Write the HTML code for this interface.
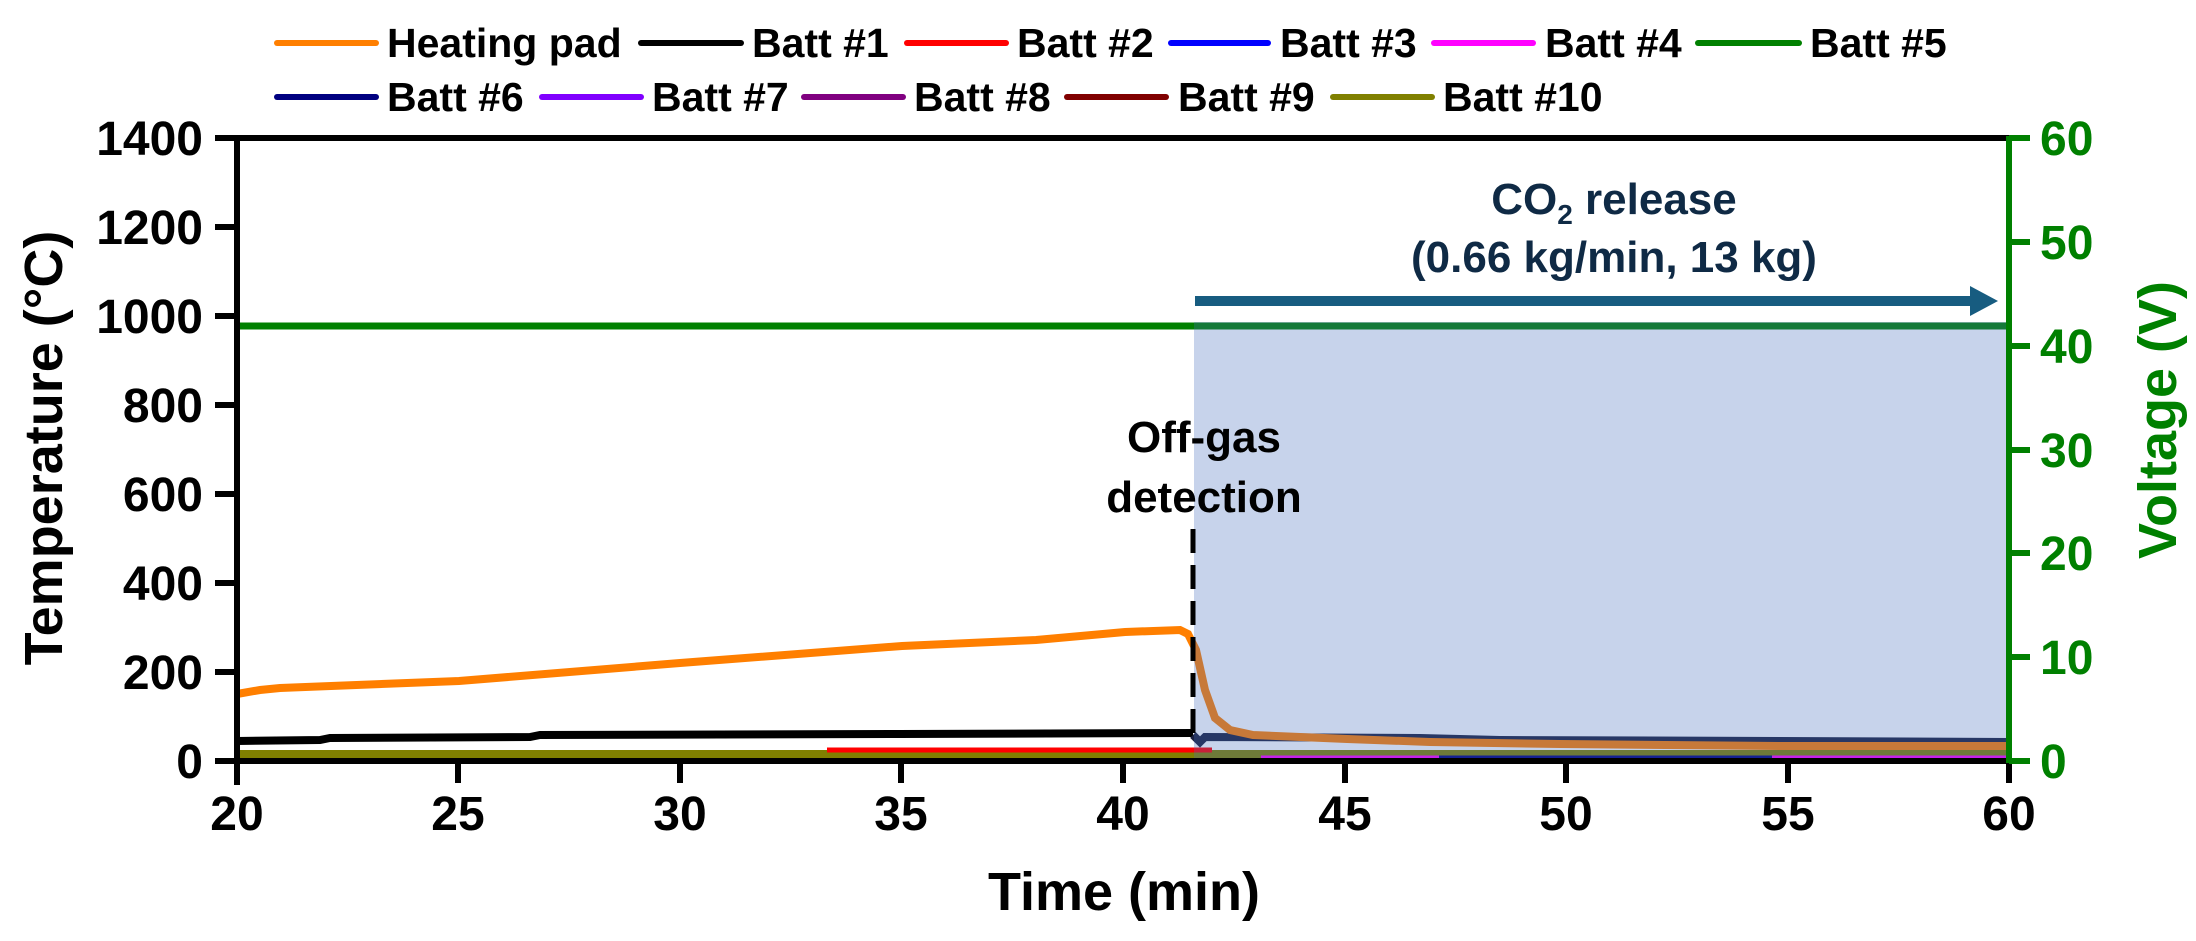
<!DOCTYPE html>
<html><head><meta charset="utf-8"><style>
html,body{margin:0;padding:0;background:#fff;}
svg{display:block;}
text{font-family:"Liberation Sans",Arial,sans-serif;font-weight:bold;}
</style></head><body>
<svg width="2196" height="941" viewBox="0 0 2196 941" xmlns="http://www.w3.org/2000/svg">
<!-- legend -->
<g stroke-width="6" stroke-linecap="round" font-size="41" fill="#000">
<line x1="277" y1="43" x2="376" y2="43" stroke="#ff7f00"/><text x="387" y="57">Heating pad</text>
<line x1="641" y1="43" x2="741" y2="43" stroke="#000"/><text x="752" y="57">Batt #1</text>
<line x1="907" y1="43" x2="1006" y2="43" stroke="#ff0000"/><text x="1017" y="57">Batt #2</text>
<line x1="1171" y1="43" x2="1268" y2="43" stroke="#0000ff"/><text x="1280" y="57">Batt #3</text>
<line x1="1434" y1="43" x2="1533" y2="43" stroke="#ff00ff"/><text x="1545" y="57">Batt #4</text>
<line x1="1698" y1="43" x2="1799" y2="43" stroke="#008000"/><text x="1810" y="57">Batt #5</text>
<line x1="277" y1="97" x2="376" y2="97" stroke="#000080"/><text x="387" y="111">Batt #6</text>
<line x1="542" y1="97" x2="641" y2="97" stroke="#8000ff"/><text x="652" y="111">Batt #7</text>
<line x1="804" y1="97" x2="903" y2="97" stroke="#800080"/><text x="914" y="111">Batt #8</text>
<line x1="1067" y1="97" x2="1166" y2="97" stroke="#800000"/><text x="1178" y="111">Batt #9</text>
<line x1="1333" y1="97" x2="1432" y2="97" stroke="#808000"/><text x="1443" y="111">Batt #10</text>
</g>
<!-- data -->
<g fill="none" stroke-width="8">
<line x1="237" y1="326" x2="2009" y2="326" stroke="#008000" stroke-width="7"/>
<line x1="237" y1="754" x2="2009" y2="754" stroke="#808000" stroke-width="8"/>
<line x1="827" y1="750" x2="1212" y2="750" stroke="#ff0000" stroke-width="5"/>
<line x1="1261" y1="758" x2="1439" y2="758" stroke="#ff00ff" stroke-width="5"/>
<line x1="1439" y1="758" x2="1772" y2="758" stroke="#000080" stroke-width="5"/>
<line x1="1772" y1="758" x2="2009" y2="758" stroke="#ff00ff" stroke-width="5"/>
<polyline stroke="#000" points="237,741 320,740 330,738 530,737 540,735 900,734 1193,733"/>
<polyline stroke="#1a2040" points="1193,735 1200,742 1205,737 1420,738 1500,740 1780,741 2009,742"/>
<polyline stroke="#ff7f00" points="237,694 260,690 280,688 459,681 680,663 902,646 1036,640 1125,632 1180,630 1188,634 1196,650 1205,690 1215,718 1230,730 1253,735 1300,737 1347,739 1430,742 1560,744 1780,746 2009,746"/>
</g>
<!-- shaded region -->
<rect x="1194" y="322" width="815" height="439" fill="rgba(70,110,190,0.3)"/>
<!-- dashed line -->
<line x1="1193" y1="529" x2="1193" y2="742" stroke="#000" stroke-width="5" stroke-dasharray="24,12"/>
<!-- arrow -->
<line x1="1195" y1="301" x2="1975" y2="301" stroke="#175c80" stroke-width="10"/>
<polygon points="1970,286 1998,301 1970,316" fill="#175c80"/>
<!-- annotations -->
<text x="1614" y="214" font-size="44" fill="#0f2a45" text-anchor="middle">CO<tspan font-size="28" dy="10">2</tspan><tspan dy="-10"> release</tspan></text>
<text x="1614" y="272" font-size="44" fill="#0f2a45" text-anchor="middle">(0.66 kg/min, 13 kg)</text>
<text x="1204" y="452" font-size="44" text-anchor="middle">Off-gas</text>
<text x="1204" y="512" font-size="44" text-anchor="middle">detection</text>
<!-- axes -->
<g stroke="#000" stroke-width="6" fill="none">
<line x1="237" y1="138" x2="2009" y2="138"/>
<line x1="237" y1="135" x2="237" y2="785"/>
<line x1="215" y1="761" x2="2009" y2="761"/>
</g>
<g stroke="#000" stroke-width="6">
<line x1="215" y1="138" x2="237" y2="138"/><line x1="215" y1="227" x2="237" y2="227"/>
<line x1="215" y1="316" x2="237" y2="316"/><line x1="215" y1="405" x2="237" y2="405"/>
<line x1="215" y1="494" x2="237" y2="494"/><line x1="215" y1="583" x2="237" y2="583"/>
<line x1="215" y1="672" x2="237" y2="672"/>
<line x1="458" y1="761" x2="458" y2="783"/><line x1="680" y1="761" x2="680" y2="783"/>
<line x1="901" y1="761" x2="901" y2="783"/><line x1="1123" y1="761" x2="1123" y2="783"/>
<line x1="1345" y1="761" x2="1345" y2="783"/><line x1="1566" y1="761" x2="1566" y2="783"/>
<line x1="1788" y1="761" x2="1788" y2="783"/><line x1="2009" y1="761" x2="2009" y2="783"/>
</g>
<g stroke="#008000" stroke-width="6">
<line x1="2009" y1="136" x2="2009" y2="763"/>
<line x1="2009" y1="138" x2="2030" y2="138"/><line x1="2009" y1="242" x2="2030" y2="242"/>
<line x1="2009" y1="346" x2="2030" y2="346"/><line x1="2009" y1="450" x2="2030" y2="450"/>
<line x1="2009" y1="553" x2="2030" y2="553"/><line x1="2009" y1="657" x2="2030" y2="657"/>
<line x1="2009" y1="761" x2="2030" y2="761"/>
</g>
<g font-size="48" text-anchor="end">
<text x="203" y="155">1400</text><text x="203" y="244">1200</text><text x="203" y="333">1000</text>
<text x="203" y="422">800</text><text x="203" y="511">600</text><text x="203" y="600">400</text>
<text x="203" y="689">200</text><text x="203" y="778">0</text>
</g>
<g font-size="48" text-anchor="middle">
<text x="237" y="830">20</text><text x="458" y="830">25</text><text x="680" y="830">30</text>
<text x="901" y="830">35</text><text x="1123" y="830">40</text><text x="1345" y="830">45</text>
<text x="1566" y="830">50</text><text x="1788" y="830">55</text><text x="2009" y="830">60</text>
</g>
<g font-size="48" fill="#008000">
<text x="2040" y="155">60</text><text x="2040" y="259">50</text><text x="2040" y="363">40</text>
<text x="2040" y="467">30</text><text x="2040" y="570">20</text><text x="2040" y="674">10</text>
<text x="2040" y="778">0</text>
</g>
<text x="1124" y="910" font-size="54" text-anchor="middle">Time (min)</text>
<text transform="translate(62,448) rotate(-90)" font-size="54" text-anchor="middle">Temperature (°C)</text>
<text transform="translate(2176,420) rotate(-90)" font-size="54" text-anchor="middle" fill="#008000">Voltage (V)</text>
</svg>
</body></html>
